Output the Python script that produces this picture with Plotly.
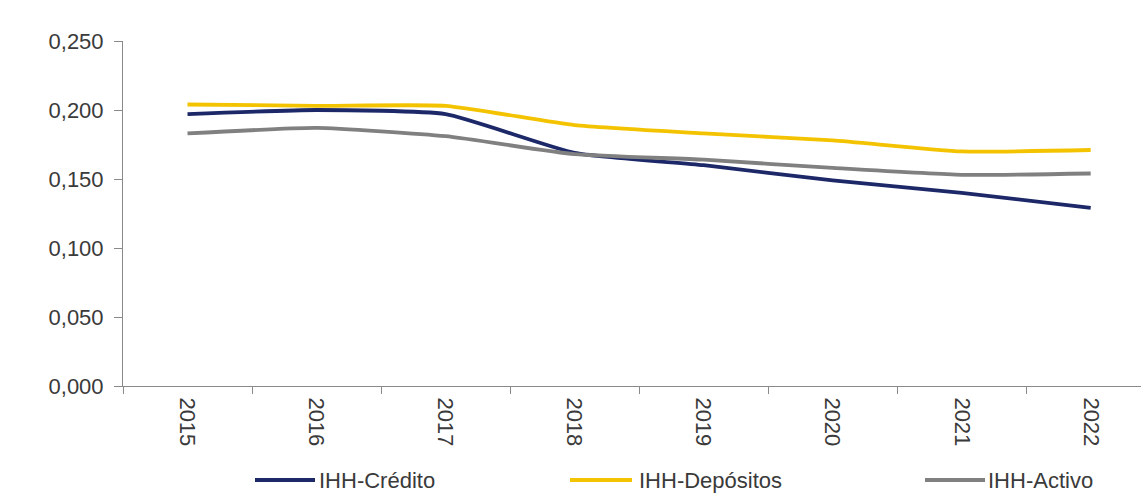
import plotly.graph_objects as go

years = ["2015", "2016", "2017", "2018", "2019", "2020", "2021", "2022"]
credito = [0.197, 0.200, 0.197, 0.169, 0.160, 0.149, 0.140, 0.129]
depositos = [0.204, 0.203, 0.203, 0.189, 0.183, 0.178, 0.170, 0.171]
activo = [0.183, 0.187, 0.181, 0.168, 0.164, 0.158, 0.153, 0.154]
y_ticks = [0.0, 0.05, 0.10, 0.15, 0.20, 0.25]

series = [
    ("IHH-Crédito", credito, "#1C2867"),
    ("IHH-Depósitos", depositos, "#F4C300"),
    ("IHH-Activo", activo, "#808080"),
]

W, H = 1141, 497
L, R, T, B = 123, 0, 41, 111
FONT = "Liberation Sans, Arial, sans-serif"
TXT = "#3a3a3a"
FS = 22

fig = go.Figure()
for name, vals, col in series:
    fig.add_trace(go.Scatter(
        x=years, y=vals, name=name, mode="lines",
        line=dict(color=col, width=3.8, shape="spline", smoothing=0.5),
        showlegend=False,
    ))

# manual legend (pixel positions -> paper coords)
pw = W - L - R
ph = H - T - B
def px(x):
    return (x - L) / pw
def py(y):
    return (H - B - y) / ph

leg = [(255, 315, 317), (570, 632, 637), (925, 985, 986)]
leg_y = 480
shapes = []
annos = []
for (x0, x1, xt), (name, vals, col) in zip(leg, series):
    shapes.append(dict(type="line", xref="paper", yref="paper",
                       x0=px(x0), x1=px(x1), y0=py(leg_y), y1=py(leg_y),
                       line=dict(color=col, width=4)))
    annos.append(dict(text=name, xref="paper", yref="paper", x=px(xt), y=py(leg_y),
                      xanchor="left", yanchor="middle", showarrow=False,
                      font=dict(family=FONT, size=FS, color=TXT)))

fig.update_layout(
    width=W, height=H,
    margin=dict(l=L, r=R, t=T, b=B),
    paper_bgcolor="white", plot_bgcolor="white",
    separators=",.",
    shapes=shapes, annotations=annos,
    font=dict(family=FONT, size=FS, color=TXT),
)
fig.update_xaxes(
    type="category", range=[-0.5, 7.39],
    showgrid=False, zeroline=False,
    showline=True, linecolor="#8a8a8a", linewidth=1,
    ticks="outside", ticklen=7, tickcolor="#8a8a8a", tickson="boundaries",
    tickangle=90, ticklabelstandoff=6,
    tickfont=dict(family=FONT, size=FS, color=TXT),
)
fig.update_yaxes(
    range=[0, 0.25], tickvals=y_ticks, tickformat=".3f",
    showgrid=False, zeroline=False,
    showline=True, linecolor="#8a8a8a", linewidth=1,
    ticks="outside", ticklen=8, tickcolor="#8a8a8a", ticklabelstandoff=6,
    tickfont=dict(family=FONT, size=FS, color=TXT),
)

fig.write_html("out.html")
